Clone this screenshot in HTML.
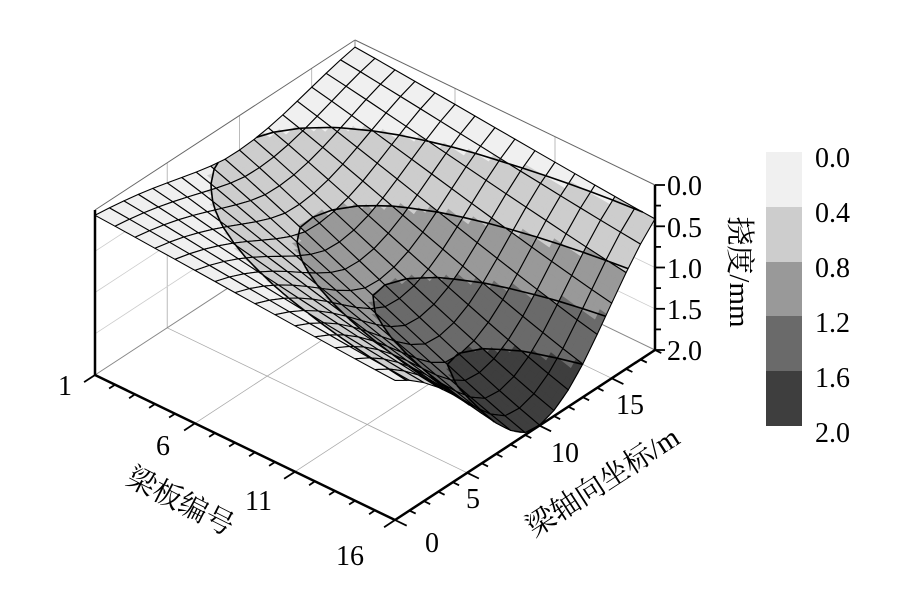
<!DOCTYPE html>
<html><head><meta charset="utf-8">
<style>
html,body{margin:0;padding:0;background:#fff;}
svg{display:block;}
text{font-family:"Liberation Serif","Noto Serif CJK SC","Noto Sans CJK SC",serif;fill:#000;}
</style></head>
<body>
<svg id="s" width="909" height="590" viewBox="0 0 909 590" xmlns="http://www.w3.org/2000/svg">
<g id="walls" stroke="#999" stroke-width="0.8" fill="none"></g>
<g id="surf"></g>
<g id="axes"></g>
<rect x="766" y="152" width="36" height="55" fill="#f0f0f0"/>
<rect x="766" y="207" width="36" height="55" fill="#cdcdcd"/>
<rect x="766" y="262" width="36" height="54" fill="#999999"/>
<rect x="766" y="316" width="36" height="55" fill="#6a6a6a"/>
<rect x="766" y="371" width="36" height="55" fill="#3e3e3e"/>
<g font-size="28">
<text x="815" y="167">0.0</text>
<text x="815" y="222">0.4</text>
<text x="815" y="277">0.8</text>
<text x="815" y="332">1.2</text>
<text x="815" y="387">1.6</text>
<text x="815" y="442">2.0</text>
<text x="667" y="195">0.0</text>
<text x="667" y="237">0.5</text>
<text x="667" y="278">1.0</text>
<text x="667" y="319">1.5</text>
<text x="667" y="360">2.0</text>
<text x="58" y="395">1</text>
<text x="156" y="455">6</text>
<text x="245" y="510">11</text>
<text x="336" y="565">16</text>
<text x="425" y="552">0</text>
<text x="466" y="508">5</text>
<text x="551" y="462">10</text>
<text x="616" y="414">15</text>
</g>
<text font-size="29" transform="translate(730,272) rotate(90)" text-anchor="middle">挠度/mm</text>
<text font-size="29" transform="translate(176,510) rotate(27)" text-anchor="middle">梁板编号</text>
<text font-size="29" transform="translate(608,490) rotate(-33)" text-anchor="middle">梁轴向坐标/m</text>
</svg>
<script>
var NS="http://www.w3.org/2000/svg";
function P(b,s,z){return [95+20*(b-1)+14.444*s, 210+9.667*(b-1)-9.444*s+82.5*z];}
function el(parent,tag,attrs){var e=document.createElementNS(NS,tag);for(var k in attrs)e.setAttribute(k,attrs[k]);parent.appendChild(e);return e;}
function line(g,a,b,st,w){el(g,"line",{x1:a[0].toFixed(1),y1:a[1].toFixed(1),x2:b[0].toFixed(1),y2:b[1].toFixed(1),stroke:st,"stroke-width":w});}
function D(b,s){
  var u=(b-1)/15;
  var h;
  if(s<9.5) h=Math.exp(-Math.pow((9.5-s)/6.5,1.65));
  else h=Math.exp(-Math.pow((s-9.5)/6.9,2.2));
  var g=0.42+1.58*(0.5*Math.pow(u,1.5)+0.5*(1-Math.pow(1-u,1.6)));
  return Math.min(2,g*h);
}
var cols=["#f0f0f0","#cdcdcd","#999999","#6a6a6a","#3e3e3e"];
function col(d){var i=Math.floor(d/0.4);if(i>4)i=4;if(i<0)i=0;return cols[i];}
var W=document.getElementById("walls");
[5,10,15].forEach(function(s){line(W,P(1,s,0),P(1,s,2),"#aaa",0.8);});
[0.5,1,1.5].forEach(function(z){line(W,P(1,0,z),P(1,18,z),"#ccc",0.8);});
[6,11].forEach(function(b){line(W,P(b,18,0),P(b,18,2),"#aaa",0.8);});
[0.5,1,1.5].forEach(function(z){line(W,P(1,18,z),P(16,18,z),"#ccc",0.8);});
[6,11].forEach(function(b){line(W,P(b,0,2),P(b,18,2),"#aaa",0.8);});
[5,10,15].forEach(function(s){line(W,P(1,s,2),P(16,s,2),"#aaa",0.8);});
line(W,P(1,0,0),P(1,18,0),"#666",1);
line(W,P(1,18,0),P(16,18,0),"#666",1);
line(W,P(1,18,0),P(1,18,2),"#888",1);
line(W,P(1,18,2),P(16,18,2),"#888",1);
line(W,P(1,18,2),P(1,0,2),"#888",1);
var S=document.getElementById("surf");
var quads=[];
for(var i=0;i<15;i++)for(var j=0;j<18;j++){quads.push([i+1,j]);}
quads.sort(function(a,b){return P(a[0]+0.5,a[1]+0.5,0)[1]-P(b[0]+0.5,b[1]+0.5,0)[1];});
var N=3;
quads.forEach(function(q){
  var b0=q[0],s0=q[1];
  var g=el(S,"g",{});
  for(var a=0;a<N;a++)for(var c=0;c<N;c++){
    var ba=b0+a/N,bb=b0+(a+1)/N,sa=s0+c/N,sb=s0+(c+1)/N;
    var pts=[[ba,sa],[bb,sa],[bb,sb],[ba,sb]];
    var avg=0;var str=pts.map(function(p){var d=D(p[0],p[1]);avg+=d;var pp=P(p[0],p[1],d);return pp[0].toFixed(1)+","+pp[1].toFixed(1);}).join(" ");
    var cc=col(avg/4);
    el(g,"polygon",{points:str,fill:cc,stroke:cc,"stroke-width":0.6});
  }
  var cs=[[b0,s0],[b0+1,s0],[b0+1,s0+1],[b0,s0+1]];
  var ds=cs.map(function(p){return D(p[0],p[1]);});
  [0.4,0.8,1.2,1.6].forEach(function(L){
    var hits=[];
    for(var e=0;e<4;e++){var d1=ds[e],d2=ds[(e+1)%4];
      if((d1-L)*(d2-L)<0){var t=(L-d1)/(d2-d1);var p1=cs[e],p2=cs[(e+1)%4];
        hits.push(P(p1[0]+t*(p2[0]-p1[0]),p1[1]+t*(p2[1]-p1[1]),L));}}
    if(hits.length>=2)line(g,hits[0],hits[1],"#000",1.6);
    if(hits.length==4)line(g,hits[2],hits[3],"#000",1.6);
  });
  var str=cs.map(function(p){var pp=P(p[0],p[1],D(p[0],p[1]));return pp[0].toFixed(1)+","+pp[1].toFixed(1);}).join(" ");
  el(g,"polygon",{points:str,fill:"none",stroke:"#000","stroke-width":1.1,"stroke-linejoin":"round"});
});
var A=document.getElementById("axes");
line(A,P(1,0,0),P(1,0,2),"#000",2.5);
line(A,P(1,0,2),P(16,0,2),"#000",2.5);
line(A,P(16,0,2),P(16,18,2),"#000",2.5);
line(A,P(16,18,0),P(16,18,2),"#000",2.5);
for(var b=1;b<=16;b++){var p=P(b,0,2);var L=((b-1)%5==0)?13:7;line(A,p,[p[0]-L*0.84,p[1]+L*0.55],"#000",1.8);}
for(var s=0;s<=18;s++){var p=P(16,s,2);var L=(s%5==0)?13:7;line(A,p,[p[0]+L*0.9,p[1]+L*0.44],"#000",1.8);}
for(var k=0;k<=8;k++){var z=k*0.25;var p=P(16,18,z);var L=(k%2==0)?10:6;line(A,p,[p[0]+L,p[1]],"#000",1.8);}
</script>
</body></html>
